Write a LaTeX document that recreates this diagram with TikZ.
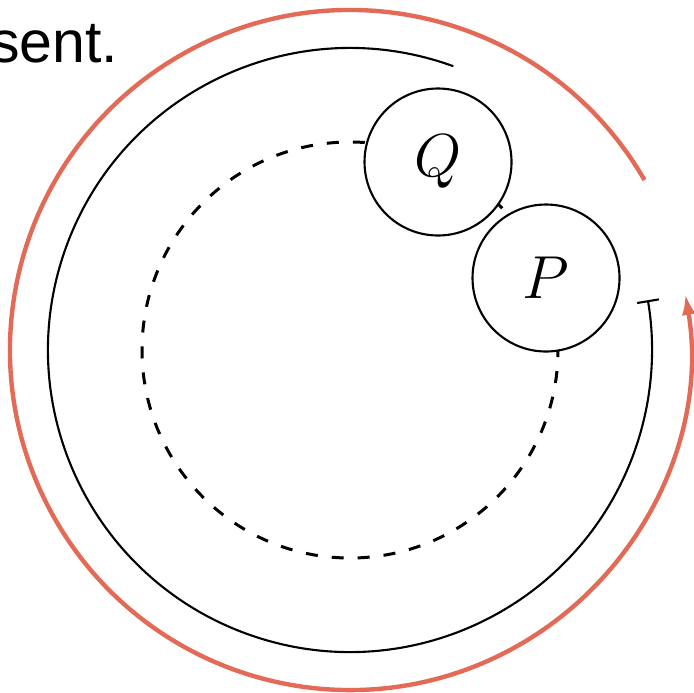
\documentclass[tikz,border=0pt]{standalone}
\usepackage{fontspec}
\setmainfont{Liberation Sans}
\usetikzlibrary{arrows.meta,calc}
\definecolor{orangearc}{RGB}{226,106,86}
\begin{document}
\begin{tikzpicture}[
  ball/.style={circle, draw, line width=0.6pt, fill=white, minimum size=1.47cm, inner sep=0pt, font=\fontsize{17.5}{19}\selectfont},
  blackarc/.style={line width=0.6pt},
  orbit/.style={line width=0.85pt, dash pattern=on 0.12cm off 0.14cm},
  redarc/.style={orangearc, line width=1.25pt},
  label/.style={inner sep=0pt, font=\fontsize{16.8}{19}\selectfont}
]
\useasboundingbox (0,0) rectangle (6.94,6.92);
\coordinate (c) at (3.50,3.42);
\node[label, anchor=base east] (txt) at (1.19,6.30) {sent.};
% outer orange arc
\draw[redarc, -{Latex[length=0.21cm,width=0.14cm]}] ($(c)+(30:3.40)$) arc[start angle=30, end angle=369.5, radius=3.40];
% black arc with bar
\draw[blackarc, -{Bar[width=0.22cm]}] ($(c)+(70:3.02)$) arc[start angle=70, end angle=369.5, radius=3.02];
% dashed orbit
\draw[orbit] (c) circle[radius=2.08];
% balls
\node[ball] (Q) at (4.38,5.30) {$Q$};
\node[ball] (P) at (5.46,4.14) {$P$};
\end{tikzpicture}
\end{document}
